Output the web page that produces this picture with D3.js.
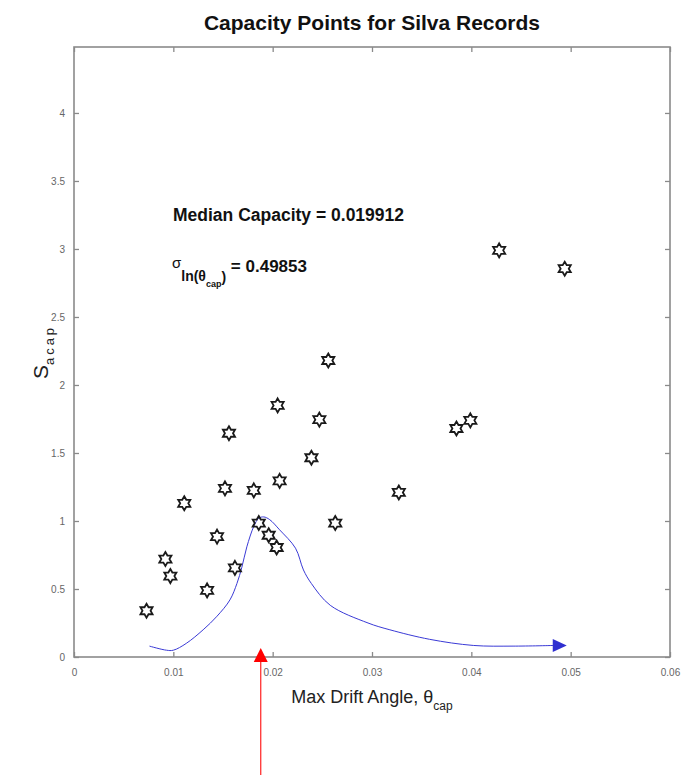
<!DOCTYPE html>
<html lang="en">
  <head>
    <meta charset="utf-8">
    <title>Capacity Points for Silva Records</title>
    <script src="https://d3js.org/d3.v7.js"></script>
    <style>
      body { margin: 0; background: #fff; }
      text { font-family: "Liberation Sans", Arial, Helvetica, sans-serif; }
    </style>
  </head>

  <body>
    <svg></svg>

  <script>

// Data

  var driftAngle = [0.0073, 0.0092, 0.0097, 0.0111, 0.0134, 0.0144, 0.0152, 0.0156,
                    0.0162, 0.0181, 0.0186, 0.0196, 0.0204, 0.0205, 0.0207, 0.0239,
                    0.0247, 0.0256, 0.0263, 0.0327, 0.0385, 0.0399, 0.0428, 0.0494];
  var sacap = [0.34, 0.72, 0.595, 1.13, 0.49, 0.885, 1.24, 1.645,
               0.655, 1.225, 0.985, 0.895, 0.805, 1.85, 1.295, 1.465,
               1.745, 2.18, 0.985, 1.21, 1.68, 1.74, 2.99, 2.855];

  // hand drawn distribution curve (blue)
  var curveX = [0.0076, 0.0093, 0.0100, 0.0113, 0.0130, 0.0144, 0.0157, 0.0164,
                0.0169, 0.0174, 0.0181, 0.0186, 0.0191, 0.0197, 0.0207, 0.0223,
                0.0231, 0.0239, 0.0258, 0.0296, 0.0318, 0.0358, 0.0402, 0.0442, 0.0484];
  var curveY = [0.08, 0.05, 0.05, 0.10, 0.20, 0.30, 0.42, 0.54,
                0.66, 0.81, 0.96, 1.02, 1.03, 1.01, 0.935, 0.80,
                0.64, 0.54, 0.38, 0.25, 0.20, 0.13, 0.085, 0.08, 0.085];

  var xTicks = [0, 0.01, 0.02, 0.03, 0.04, 0.05, 0.06];
  var yTicks = [0, 0.5, 1, 1.5, 2, 2.5, 3, 3.5, 4];
  var xDomain = [0, 0.06];
  var yDomain = [0, 4.485];

  var medianMarker = 0.0188;   // red arrow position
  var medianText = "Median Capacity = 0.019912";
  var sigmaText = "0.49853";

// Layout

  var w = 682;
  var h = 775;
  var margin = {top: 47, right: 12, bottom: 118, left: 74};
  var innerWidth = w - margin.left - margin.right;
  var innerHeight = h - margin.top - margin.bottom;

  var svg = d3.select("svg")
      .attr("width", w)
      .attr("height", h);

  var xScale = d3.scaleLinear().domain(xDomain).range([0, innerWidth]);
  var yScale = d3.scaleLinear().domain(yDomain).range([innerHeight, 0]);

  var g = svg.append("g")
      .attr("transform", `translate(${margin.left}, ${margin.top})`);

  var axisColor = "#8a8a8a";
  var labelColor = "#666";

  function styleAxis(sel) {
    sel.select(".domain").remove();
    sel.selectAll(".tick line").attr("stroke", axisColor).attr("stroke-width", 1.3);
    sel.selectAll(".tick text").attr("fill", labelColor)
        .style("font-size", "10px");
  }

  // bottom + left axes with inward ticks
  g.append("g")
      .attr("transform", `translate(0, ${innerHeight})`)
      .call(d3.axisBottom(xScale).tickValues(xTicks).tickSizeInner(-5).tickSizeOuter(0)
            .tickPadding(12).tickFormat(d3.format("")))
      .call(styleAxis);

  g.append("g")
      .call(d3.axisLeft(yScale).tickValues(yTicks).tickSizeInner(-5).tickSizeOuter(0)
            .tickPadding(9).tickFormat(d3.format("")))
      .call(styleAxis);

  // top + right mirrored ticks
  g.append("g")
      .call(d3.axisTop(xScale).tickValues(xTicks).tickSizeInner(-5).tickSizeOuter(0).tickFormat(""))
      .call(styleAxis);

  g.append("g")
      .attr("transform", `translate(${innerWidth}, 0)`)
      .call(d3.axisRight(yScale).tickValues(yTicks).tickSizeInner(-5).tickSizeOuter(0).tickFormat(""))
      .call(styleAxis);

  // box
  g.append("rect")
      .attr("width", innerWidth)
      .attr("height", innerHeight)
      .attr("fill", "none")
      .attr("stroke", axisColor)
      .attr("stroke-width", 1.6);

  // blue curve with arrow
  var curveData = curveX.map((x, i) => ({x: x, y: curveY[i]}));
  var line = d3.line()
      .x(d => xScale(d.x))
      .y(d => yScale(d.y))
      .curve(d3.curveCatmullRom);

  g.append("path")
      .datum(curveData)
      .attr("d", line)
      .attr("fill", "none")
      .attr("stroke", "#3a3ad6")
      .attr("stroke-width", 1);

  var last = curveData[curveData.length - 1];
  var ax = xScale(last.x), ay = yScale(last.y);
  g.append("path")
      .attr("d", `M${ax - 2},${ay - 6.5} L${ax + 12},${ay} L${ax - 2},${ay + 6.5} Z`)
      .attr("fill", "#2f2fd0");

  // hexagram markers
  function hexagram(R) {
    var r = R / Math.sqrt(3);
    var pts = [];
    for (var i = 0; i < 12; i++) {
      var a = -Math.PI / 2 + i * Math.PI / 6;
      var rad = i % 2 === 0 ? R : r;
      pts.push([rad * Math.cos(a), rad * Math.sin(a)]);
    }
    return "M" + pts.map(p => p[0].toFixed(2) + "," + p[1].toFixed(2)).join("L") + "Z";
  }

  g.selectAll(".pt")
      .data(driftAngle.map((x, i) => ({x: x, y: sacap[i]})))
      .enter().append("path")
      .attr("class", "pt")
      .attr("transform", d => `translate(${xScale(d.x)}, ${yScale(d.y)})`)
      .attr("d", hexagram(7))
      .attr("fill", "none")
      .attr("stroke", "#1a1a1a")
      .attr("stroke-width", 1.8);

  // annotations
  g.append("text")
      .attr("x", 99)
      .attr("y", 174)
      .attr("font-weight", "bold")
      .style("font-size", "17.5px")
      .attr("fill", "#111")
      .text(medianText);

  var sig = g.append("text")
      .attr("x", 98)
      .attr("y", 225)
      .attr("fill", "#111")
      .style("font-size", "17px");
  sig.append("tspan").text("σ").style("font-size", "15px").attr("dy", -4);
  sig.append("tspan").text("ln(θ").attr("font-weight", "bold").style("font-size", "14px").attr("dy", 13);
  sig.append("tspan").text("cap").attr("font-weight", "bold").style("font-size", "9px").attr("dy", 6);
  sig.append("tspan").text(")").attr("font-weight", "bold").style("font-size", "14px").attr("dy", -5);
  sig.append("tspan").text(" = " + sigmaText).attr("font-weight", "bold").attr("dy", -10);

  // title
  svg.append("text")
      .attr("x", margin.left + innerWidth / 2)
      .attr("y", 30)
      .attr("text-anchor", "middle")
      .attr("font-weight", "bold")
      .style("font-size", "21px")
      .attr("fill", "#111")
      .text("Capacity Points for Silva Records");

  // x label
  var xl = svg.append("text")
      .attr("x", margin.left + innerWidth / 2)
      .attr("y", 703)
      .attr("text-anchor", "middle")
      .style("font-size", "18px")
      .attr("fill", "#222");
  xl.append("tspan").text("Max Drift Angle, θ");
  xl.append("tspan").text("cap").style("font-size", "12px").attr("dy", 7);

  // y label
  var yl = svg.append("text")
      .attr("transform", "translate(48, 352) rotate(-90)")
      .attr("text-anchor", "middle")
      .style("font-size", "21px")
      .attr("fill", "#222");
  yl.append("tspan").text("S");
  yl.append("tspan").text("acap").style("font-size", "13px").attr("dy", 6)
      .attr("letter-spacing", 3);

  // red arrow under the axis
  var rx = margin.left + xScale(medianMarker);
  svg.append("line")
      .attr("x1", rx).attr("x2", rx)
      .attr("y1", 660).attr("y2", h)
      .attr("stroke", "#ff2020")
      .attr("stroke-width", 1.2);
  svg.append("path")
      .attr("d", `M${rx},648 L${rx + 7},662 L${rx - 7},662 Z`)
      .attr("fill", "#ff0000");

    </script>

  </body>

</html>
